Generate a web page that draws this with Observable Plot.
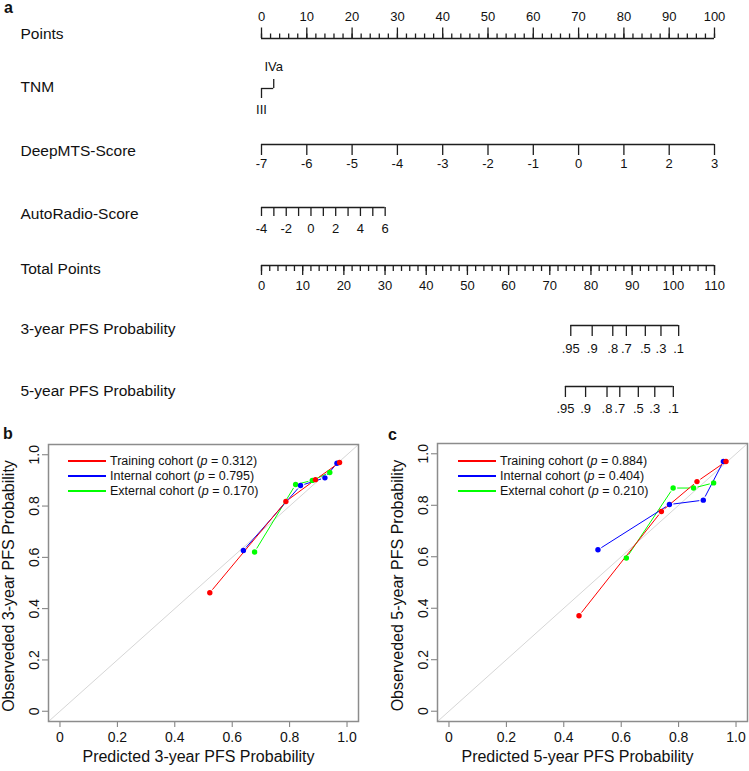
<!DOCTYPE html>
<html><head><meta charset="utf-8">
<script src="https://cdn.jsdelivr.net/npm/d3@7"></script>
<script src="https://cdn.jsdelivr.net/npm/@observablehq/plot@0.6"></script>
<style>
body{margin:0;background:#fff;}
#root{position:relative;width:749px;height:771px;font-family:"Liberation Sans",Arial,Helvetica,sans-serif;color:#111;overflow:hidden;}
.panel{position:absolute;}
.tag{position:absolute;font-weight:bold;font-size:16px;line-height:16px;}
.legend{position:absolute;font-size:12.5px;}
.legend .row{position:relative;height:15px;line-height:15px;white-space:nowrap;padding-left:42px;}
.legend .sw{position:absolute;left:0;top:6px;width:38px;height:2px;}
.calib [aria-label="x-axis tick"], .calib [aria-label="y-axis tick"]{stroke:#7a7a7a;}
</style></head>
<body>
<div id="root">
  <div id="pa" class="panel" style="left:0;top:0"></div>
  <div id="pb" class="panel calib" style="left:0;top:420px"></div>
  <div id="pc" class="panel calib" style="left:375px;top:420px"></div>
  <div class="tag" style="left:4px;top:0px">a</div>
  <div class="tag" style="left:3px;top:426px">b</div>
  <div class="tag" style="left:388px;top:427px">c</div>
  <div id="legb" class="legend" style="left:68px;top:454px"></div>
  <div id="legc" class="legend" style="left:458px;top:454px"></div>
</div>
<script>
// ================= DATA =================
// Panel a: nomogram
const rowNames = ["Points","TNM","DeepMTS-Score","AutoRadio-Score","Total Points","3-year PFS Probability","5-year PFS Probability"];
const pointsTicks = [0,10,20,30,40,50,60,70,80,90,100];
const pointsMinor = d3.range(0, 101, 2);
const tnmLevels = ["III","IVa"];
const tnmPoints = [0, 2.7];
const deepmtsTicks = [-7,-6,-5,-4,-3,-2,-1,0,1,2,3];
const deepmtsPoints = [0, 100];
const autoradioTicks = [-4,-3,-2,-1,0,1,2,3,4,5,6];
const autoradioLabels = [-4,-2,0,2,4,6];
const autoradioPoints = [0, 27.3];
const totalTicks = [0,10,20,30,40,50,60,70,80,90,100,110];
const totalMinor = d3.range(0, 111, 2);
const probLabels = [".95",".9",".8",".7",".5",".3",".1"];
const prob3yTotal = [75.1, 80.3, 85.3, 88.6, 93.2, 97.0, 101.3];
const prob5yTotal = [73.8, 78.7, 83.9, 87.0, 91.5, 95.5, 100.0];

// Panels b, c: calibration
const cohorts = ["Training cohort","Internal cohort","External cohort"];
const cohortColors = ["#ff0000","#0000ff","#00ff00"];
const pValues3 = ["0.312","0.795","0.170"];
const pValues5 = ["0.884","0.404","0.210"];
const calTicks = [0, 0.2, 0.4, 0.6, 0.8, 1.0];
const calTickLabels = ["0","0.2","0.4","0.6","0.8","1.0"];
const axisDomain = [-0.04, 1.04];

const pred3Training = [0.522, 0.787, 0.890, 0.974];
const obs3Training  = [0.462, 0.818, 0.903, 0.970];
const pred3Internal = [0.639, 0.838, 0.923, 0.965];
const obs3Internal  = [0.627, 0.880, 0.910, 0.967];
const pred3External = [0.678, 0.821, 0.879, 0.940];
const obs3External  = [0.621, 0.884, 0.900, 0.931];

const pred5Training = [0.453, 0.740, 0.864, 0.965];
const obs5Training  = [0.371, 0.776, 0.892, 0.970];
const pred5Internal = [0.519, 0.768, 0.886, 0.956];
const obs5Internal  = [0.627, 0.803, 0.820, 0.970];
const pred5External = [0.618, 0.781, 0.852, 0.922];
const obs5External  = [0.595, 0.867, 0.867, 0.887];

// ================= PANEL A =================
const FONT = "'Liberation Sans', Arial, Helvetica, sans-serif";
const totToPts  = d3.scaleLinear().domain(d3.extent(totalTicks)).range(d3.extent(pointsTicks));
const deepToPts = d3.scaleLinear().domain(d3.extent(deepmtsTicks)).range(deepmtsPoints);
const autoToPts = d3.scaleLinear().domain(d3.extent(autoradioTicks)).range(autoradioPoints);

const LS = {stroke: "#1e1e1e", strokeWidth: 1.3};
const at = r => () => r;
const base = (row, a, b, dy) => Plot.ruleY([row], {y: d => d, x1: () => a, x2: () => b, dy, ...LS});
const tks = (data, x, row, len, dy) => Plot.ruleX(data, {x, y1: at(row), y2: at(row), dy,
  ...(len < 0 ? {insetTop: len} : {insetBottom: -len}), ...LS});
const labs = (data, x, text, row, dy) => Plot.text(data, {x, y: at(row), text, dy, fontSize: 13, fill: "#111"});

// layout offsets (styles)
const rowAxisDy  = [0, -8, -10, -5, -5, -3, 0];
const rowLabelDy = [-4.5, -9, -3, 2, -1, 1, 5];

const tnmItems = tnmLevels.map((l, i) => ({l, p: tnmPoints[i], up: i % 2 === 1}));
const prob3 = probLabels.map((l, i) => ({l, t: prob3yTotal[i]}));
const prob5 = probLabels.map((l, i) => ({l, t: prob5yTotal[i]}));
const [R0, R1, R2, R3, R4, R5, R6] = rowNames;

const nomo = Plot.plot({
  width: 749, height: 420,
  marginLeft: 261, marginRight: 35, marginTop: 38, marginBottom: 34,
  x: {domain: d3.extent(pointsTicks), axis: null},
  y: {type: "point", domain: rowNames, padding: 0, axis: null},
  style: {fontFamily: FONT, fontSize: "13px", color: "#111", background: "transparent"},
  marks: [
    ...rowNames.map((r, i) => Plot.text([r], {y: d => d, text: d => d, frameAnchor: "left", textAnchor: "start",
      dx: -241, dy: rowLabelDy[i], fontSize: 15.5, fill: "#111"})),
    // Points
    base(R0, pointsTicks[0], pointsTicks[pointsTicks.length - 1], rowAxisDy[0]),
    tks(pointsMinor, d => d, R0, -4.5, rowAxisDy[0]),
    tks(pointsTicks, d => d, R0, -10.5, rowAxisDy[0]),
    labs(pointsTicks, d => d, d => String(d), R0, rowAxisDy[0] - 21.3),
    // TNM
    base(R1, tnmPoints[0], tnmPoints[tnmPoints.length - 1], rowAxisDy[1]),
    tks(tnmItems.filter(d => !d.up), d => d.p, R1, 10, rowAxisDy[1]),
    tks(tnmItems.filter(d => d.up), d => d.p, R1, -9, rowAxisDy[1]),
    labs(tnmItems.filter(d => !d.up), d => d.p, d => d.l, R1, rowAxisDy[1] + 21),
    labs(tnmItems.filter(d => d.up), d => d.p, d => d.l, R1, rowAxisDy[1] - 21.3),
    // DeepMTS
    base(R2, deepToPts(deepmtsTicks[0]), deepToPts(deepmtsTicks[deepmtsTicks.length - 1]), rowAxisDy[2]),
    tks(deepmtsTicks, deepToPts, R2, 11, rowAxisDy[2]),
    labs(deepmtsTicks, deepToPts, d => String(d), R2, rowAxisDy[2] + 19.3),
    // AutoRadio
    base(R3, autoToPts(autoradioTicks[0]), autoToPts(autoradioTicks[autoradioTicks.length - 1]), rowAxisDy[3]),
    tks(autoradioTicks, autoToPts, R3, 9, rowAxisDy[3]),
    labs(autoradioLabels, autoToPts, d => String(d), R3, rowAxisDy[3] + 21),
    // Total points
    base(R4, totToPts(totalTicks[0]), totToPts(totalTicks[totalTicks.length - 1]), rowAxisDy[4]),
    tks(totalMinor, totToPts, R4, 6, rowAxisDy[4]),
    tks(totalTicks, totToPts, R4, 10, rowAxisDy[4]),
    labs(totalTicks, totToPts, d => String(d), R4, rowAxisDy[4] + 20),
    // 3-year
    base(R5, totToPts(prob3yTotal[0]), totToPts(prob3yTotal[prob3yTotal.length - 1]), rowAxisDy[5]),
    tks(prob3, d => totToPts(d.t), R5, 11, rowAxisDy[5]),
    labs(prob3, d => totToPts(d.t), d => d.l, R5, rowAxisDy[5] + 23.3),
    // 5-year
    base(R6, totToPts(prob5yTotal[0]), totToPts(prob5yTotal[prob5yTotal.length - 1]), rowAxisDy[6]),
    tks(prob5, d => totToPts(d.t), R6, 11, rowAxisDy[6]),
    labs(prob5, d => totToPts(d.t), d => d.l, R6, rowAxisDy[6] + 22.3)
  ]
});
document.getElementById("pa").append(nomo);

// ================= PANELS B, C =================
function calibPlot({pred, obs, xTitle, yTitle, width, ml, mr, mt, titleDx}) {
  const pts = [], segs = [];
  for (const k of [2, 1, 0]) {
    const P = pred[k], O = obs[k];
    P.forEach((p, j) => pts.push({cohort: cohorts[k], pred: p, obs: O[j]}));
    d3.pairs(d3.range(P.length)).forEach(([a, b]) =>
      segs.push({cohort: cohorts[k], x1: P[a], y1: O[a], x2: P[b], y2: O[b]}));
  }
  return Plot.plot({
    width, height: 351, marginLeft: ml, marginRight: mr, marginTop: mt, marginBottom: 50,
    style: {fontFamily: FONT, fontSize: "14px", color: "#111", background: "transparent"},
    x: {domain: axisDomain, ticks: calTicks, tickFormat: d => calTickLabels[calTicks.indexOf(d)],
        tickSize: 6, tickPadding: 5, label: null},
    y: {domain: axisDomain, ticks: calTicks, tickFormat: () => "", tickSize: 6, label: null},
    color: {domain: cohorts, range: cohortColors},
    marks: [
      Plot.line(axisDomain, {x: d => d, y: d => d, stroke: "#d6d6d6", strokeWidth: 1}),
      Plot.arrow(segs, {x1: "x1", y1: "y1", x2: "x2", y2: "y2", stroke: "cohort", strokeWidth: 1,
        headLength: 0, insetStart: 4, insetEnd: 4, strokeLinecap: "butt"}),
      Plot.dot(pts, {x: "pred", y: "obs", fill: "cohort", r: 2.7}),
      Plot.text(calTicks, {y: d => d, text: d => calTickLabels[calTicks.indexOf(d)], frameAnchor: "left",
        textAnchor: "middle", rotate: -90, dx: -14, fontSize: 14, fill: "#111"}),
      Plot.text([yTitle], {text: d => d, frameAnchor: "left", textAnchor: "middle", rotate: -90,
        dx: -40, dy: 3, fontSize: 16, fill: "#111"}),
      Plot.text([xTitle], {text: d => d, frameAnchor: "bottom", textAnchor: "middle", dy: 40, dx: titleDx,
        fontSize: 16, fill: "#111"}),
      Plot.frame({stroke: "#8c8c8c", strokeWidth: 1.5})
    ]
  });
}

document.getElementById("pb").append(calibPlot({
  pred: [pred3Training, pred3Internal, pred3External],
  obs: [obs3Training, obs3Internal, obs3External],
  xTitle: "Predicted 3-year PFS Probability",
  yTitle: "Observeded 3-year PFS Probability",
  width: 375, ml: 48, mr: 17, mt: 24, titleDx: -5
}));
document.getElementById("pc").append(calibPlot({
  pred: [pred5Training, pred5Internal, pred5External],
  obs: [obs5Training, obs5Internal, obs5External],
  xTitle: "Predicted 5-year PFS Probability",
  yTitle: "Observeded 5-year PFS Probability",
  width: 374, ml: 62, mr: 2, mt: 23, titleDx: -15
}));

function legend(id, pvals) {
  const el = document.getElementById(id);
  cohorts.forEach((c, i) => {
    const row = document.createElement("div");
    row.className = "row";
    const sw = document.createElement("span");
    sw.className = "sw";
    sw.style.background = cohortColors[i];
    const t = document.createElement("span");
    t.append(c + " (");
    const it = document.createElement("i");
    it.textContent = "p";
    t.append(it, " = " + pvals[i] + ")");
    row.append(sw, t);
    el.append(row);
  });
}
legend("legb", pValues3);
legend("legc", pValues5);
</script>
</body></html>
